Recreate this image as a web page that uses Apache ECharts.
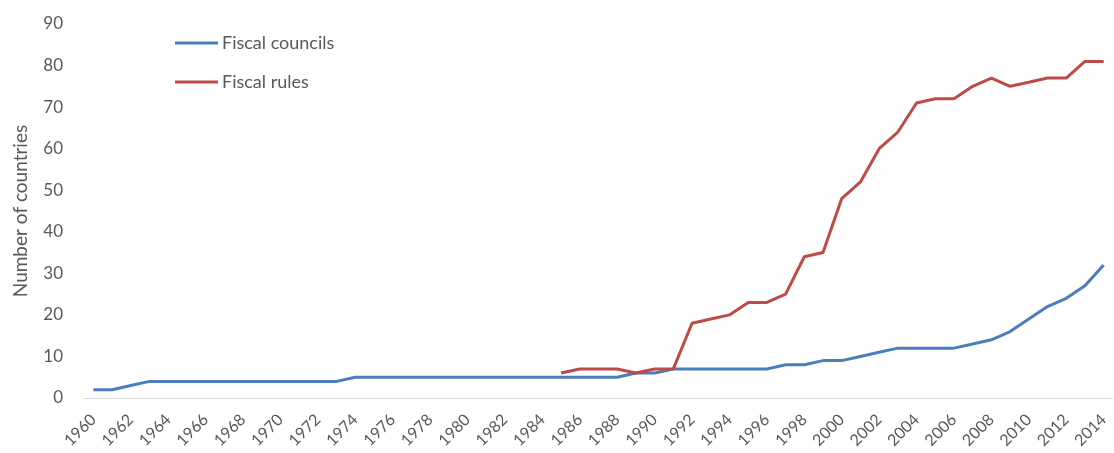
<!DOCTYPE html>
<html>
<head>
<meta charset="utf-8">
<script src="https://cdn.jsdelivr.net/npm/echarts@6/dist/echarts.min.js"></script>
<style>
  html, body { margin: 0; padding: 0; background: #fff; }
  #chart { width: 1114px; height: 453px; }
</style>
</head>
<body>
<div id="chart"></div>
<script>
// years 1960..2014
const years = [];
for (let y = 1960; y <= 2014; y++) years.push(String(y));

// number of countries with fiscal councils
const fiscalCouncils = [
  2, 2, 3, 4, 4, 4, 4, 4, 4, 4,      // 1960-1969
  4, 4, 4, 4, 5, 5, 5, 5, 5, 5,      // 1970-1979
  5, 5, 5, 5, 5, 5, 5, 5, 5, 6,      // 1980-1989
  6, 7, 7, 7, 7, 7, 7, 8, 8, 9,      // 1990-1999
  9, 10, 11, 12, 12, 12, 12, 13, 14, 16, // 2000-2009
  19, 22, 24, 27, 32                 // 2010-2014
];

// number of countries with fiscal rules (series starts 1985)
const fiscalRules = [
  '-', '-', '-', '-', '-', '-', '-', '-', '-', '-',
  '-', '-', '-', '-', '-', '-', '-', '-', '-', '-',
  '-', '-', '-', '-', '-', 6, 7, 7, 7, 6,
  7, 7, 18, 19, 20, 23, 23, 25, 34, 35,
  48, 52, 60, 64, 71, 72, 72, 75, 77, 75,
  76, 77, 77, 81, 81
];

const textColor = '#595959';
const fontFam = 'Lato, "Open Sans", sans-serif';

const chart = echarts.init(document.getElementById('chart'));
chart.setOption({
  animation: false,
  grid: { left: 84, right: 1, top: 24, bottom: 55 },
  legend: {
    orient: 'vertical',
    left: 175,
    top: 33,
    padding: 0,
    itemWidth: 43,
    itemHeight: 3,
    itemGap: 19,
    icon: 'rect',
    textStyle: { color: textColor, fontSize: 18, lineHeight: 20, fontFamily: fontFam, padding: [0, 0, 0, -1] },
    data: ['Fiscal councils', 'Fiscal rules']
  },
  xAxis: {
    type: 'category',
    data: years,
    boundaryGap: true,
    axisLine: { lineStyle: { color: '#d9d9d9', width: 1 } },
    axisTick: { show: false },
    axisLabel: {
      interval: 1,
      rotate: 45,
      color: textColor,
      fontSize: 16,
      fontFamily: fontFam,
      margin: 19
    },
    splitLine: { show: false }
  },
  yAxis: {
    type: 'value',
    min: 0,
    max: 90,
    interval: 10,
    name: 'Number of countries',
    nameLocation: 'middle',
    nameGap: 54,
    nameTextStyle: { color: textColor, fontSize: 19, fontFamily: fontFam },
    axisLine: { show: false },
    axisTick: { show: false },
    splitLine: { show: false },
    axisLabel: { color: textColor, fontSize: 17, fontFamily: fontFam, margin: 21 }
  },
  series: [
    {
      name: 'Fiscal councils',
      type: 'line',
      data: fiscalCouncils,
      symbol: 'none',
      lineStyle: { color: '#4a7ebb', width: 3 },
      itemStyle: { color: '#4a7ebb' }
    },
    {
      name: 'Fiscal rules',
      type: 'line',
      data: fiscalRules,
      symbol: 'none',
      lineStyle: { color: '#be4b48', width: 3 },
      itemStyle: { color: '#be4b48' }
    }
  ]
});
</script>
</body>
</html>
